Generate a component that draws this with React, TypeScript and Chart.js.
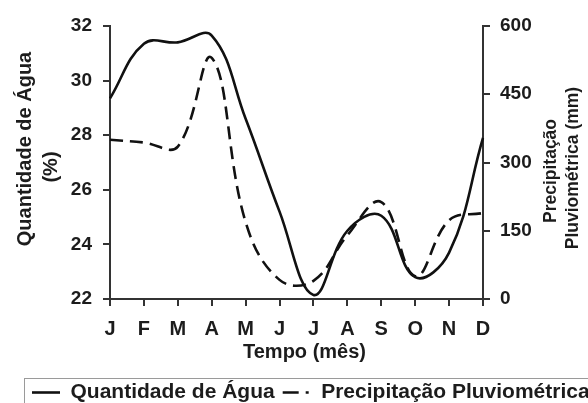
import React, { useEffect, useRef } from "react";
import { Chart, registerables } from "chart.js";

Chart.register(...registerables);

const months = ["J", "F", "M", "A", "M", "J", "J", "A", "S", "O", "N", "D"];
const waterPct = [29.35, 31.35, 31.4, 31.65, 28.6, 25.2, 22.15, 24.5, 25.05, 22.8, 23.7, 27.9];
const rainMm = [350, 344, 335, 530, 169, 42, 40, 140, 213, 50, 173, 189];
const leftTicks = [22, 24, 26, 28, 30, 32];
const rightTicks = [0, 150, 300, 450, 600];
const waterLabel = "Quantidade de Água";
const rainLabel = "Precipitação Pluviométrica";
const leftTitle = ["Quantidade de Água", "(%)"];
const rightTitle = ["Precipitação", "Pluviométrica (mm)"];
const xTitle = "Tempo (mês)";

const INK = "#1c1c1c";
const AXIS = "#333333";
const FAMILY = "'Liberation Sans', Arial, sans-serif";
const TICK_FONT = { family: FAMILY, size: 19, weight: "bold" as const };

const titlesPlugin = {
  id: "customTitles",
  afterDraw(chart: any) {
    const ctx = chart.ctx;
    const area = chart.chartArea;
    ctx.save();
    ctx.fillStyle = INK;
    ctx.textAlign = "center";
    ctx.textBaseline = "middle";
    // left title
    ctx.font = `bold 20px ${FAMILY}`;
    const lx = [25, 51];
    const ly = [149, 167];
    leftTitle.forEach((t, i) => {
      ctx.save();
      ctx.translate(lx[i], ly[i]);
      ctx.rotate(-Math.PI / 2);
      ctx.fillText(t, 0, 0);
      ctx.restore();
    });
    // right title
    ctx.font = `bold 17.5px ${FAMILY}`;
    const rx = [551, 573];
    const ry = [171, 168];
    rightTitle.forEach((t, i) => {
      ctx.save();
      ctx.translate(rx[i], ry[i]);
      ctx.rotate(-Math.PI / 2);
      ctx.fillText(t, 0, 0);
      ctx.restore();
    });
    // x title
    ctx.font = `bold 20px ${FAMILY}`;
    ctx.fillText(xTitle, (area.left + area.right) / 2 + 8, 352);
    // legend frame
    ctx.strokeStyle = "#9a9a9a";
    ctx.lineWidth = 1;
    ctx.strokeRect(24.5, 378.5, 700, 100);
    ctx.restore();
  },
};

export default function App() {
  const ref = useRef<HTMLCanvasElement | null>(null);
  useEffect(() => {
    if (!ref.current) return;
    const chart = new Chart(ref.current, {
      type: "line",
      data: {
        labels: months,
        datasets: [
          {
            label: waterLabel,
            data: waterPct,
            yAxisID: "y",
            borderColor: "#111111",
            borderWidth: 2.6,
            pointRadius: 0,
            tension: 0.4,
            fill: false,
          },
          {
            label: rainLabel,
            data: rainMm,
            yAxisID: "y1",
            borderColor: "#111111",
            borderWidth: 2.6,
            borderDash: [13, 7],
            pointRadius: 0,
            tension: 0.4,
            fill: false,
          },
        ],
      },
      options: {
        animation: false,
        responsive: true,
        maintainAspectRatio: false,
        devicePixelRatio: 1,
        layout: { padding: { left: 24, top: 26, right: 0, bottom: 7 } },
        plugins: {
          tooltip: { enabled: false },
          legend: {
            display: true,
            position: "bottom",
            align: "start",
            labels: {
              usePointStyle: true,
              pointStyleWidth: 28,
              boxHeight: 21,
              padding: 8,
              color: INK,
              font: { family: FAMILY, size: 21, weight: "bold" },
              generateLabels: () => [
                {
                  text: waterLabel,
                  pointStyle: "line",
                  strokeStyle: "#111111",
                  fillStyle: "#111111",
                  lineWidth: 2.6,
                  lineDash: [],
                  fontColor: INK,
                  datasetIndex: 0,
                  hidden: false,
                },
                {
                  text: rainLabel,
                  pointStyle: "line",
                  strokeStyle: "#111111",
                  fillStyle: "#111111",
                  lineWidth: 2.6,
                  lineDash: [16, 7, 3, 12],
                  fontColor: INK,
                  datasetIndex: 1,
                  hidden: false,
                },
              ],
            },
          },
        },
        scales: {
          x: {
            offset: false,
            grid: { display: true, drawOnChartArea: false, drawTicks: true, tickLength: 7, color: AXIS, lineWidth: 2 },
            border: { display: true, color: AXIS, width: 2 },
            ticks: { color: INK, font: { ...TICK_FONT, size: 20 }, padding: 11, maxRotation: 0, autoSkip: false },
            afterFit: (s: any) => { s.height = 75; },
          },
          y: {
            position: "left",
            min: 22,
            max: 32,
            afterBuildTicks: (s: any) => { s.ticks = leftTicks.map((v) => ({ value: v })); },
            grid: { display: true, drawOnChartArea: false, drawTicks: true, tickLength: 7, color: AXIS, lineWidth: 2 },
            border: { display: true, color: AXIS, width: 2 },
            ticks: { color: INK, font: TICK_FONT, padding: 11 },
            afterFit: (s: any) => { s.width = 86; },
          },
          y1: {
            position: "right",
            min: 0,
            max: 600,
            afterBuildTicks: (s: any) => { s.ticks = rightTicks.map((v) => ({ value: v })); },
            grid: { display: true, drawOnChartArea: false, drawTicks: true, tickLength: 7, color: AXIS, lineWidth: 2 },
            border: { display: true, color: AXIS, width: 2 },
            ticks: { color: INK, font: TICK_FONT, padding: 10 },
            afterFit: (s: any) => { s.width = 137; },
          },
        },
      },
      plugins: [titlesPlugin],
    });
    return () => chart.destroy();
  }, []);
  return (
    <div style={{ position: "absolute", left: 0, top: 0, width: 588, height: 403, overflow: "hidden", background: "#fff" }}>
      <div style={{ position: "relative", width: 620, height: 420 }}>
        <canvas ref={ref} />
      </div>
    </div>
  );
}
